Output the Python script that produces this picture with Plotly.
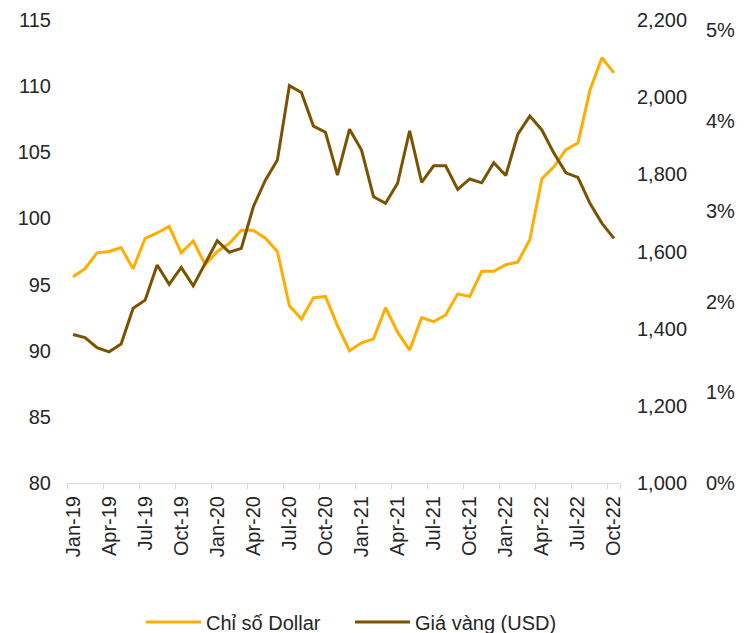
import plotly.graph_objects as go

months = ["Jan-19","Feb-19","Mar-19","Apr-19","May-19","Jun-19","Jul-19","Aug-19","Sep-19","Oct-19","Nov-19","Dec-19",
          "Jan-20","Feb-20","Mar-20","Apr-20","May-20","Jun-20","Jul-20","Aug-20","Sep-20","Oct-20","Nov-20","Dec-20",
          "Jan-21","Feb-21","Mar-21","Apr-21","May-21","Jun-21","Jul-21","Aug-21","Sep-21","Oct-21","Nov-21","Dec-21",
          "Jan-22","Feb-22","Mar-22","Apr-22","May-22","Jun-22","Jul-22","Aug-22","Sep-22","Oct-22"]

dollar_index = [95.6, 96.2, 97.4, 97.5, 97.8, 96.2, 98.5, 98.9, 99.4, 97.4, 98.3, 96.5,
                97.5, 98.1, 99.1, 99.1, 98.5, 97.5, 93.4, 92.4, 94.0, 94.1, 91.9, 90.0,
                90.6, 90.9, 93.25, 91.4, 90.05, 92.5, 92.2, 92.7, 94.3, 94.1, 96.0, 96.0,
                96.5, 96.7, 98.4, 103.0, 103.9, 105.2, 105.7, 109.7, 112.15, 111.0]

gold_usd = [1385, 1377, 1351, 1340, 1360, 1453, 1474, 1565, 1515, 1559, 1511, 1569,
            1628, 1598, 1608, 1716, 1785, 1837, 2030, 2012, 1925, 1909, 1798, 1917,
            1863, 1742, 1725, 1777, 1913, 1779, 1822, 1822, 1761, 1788, 1778, 1830,
            1797, 1904, 1951, 1915, 1855, 1804, 1792, 1725, 1673, 1634]

tick_labels = months[::3]

ORANGE = "#FFAD00"
BROWN = "#7B5300"
FONT = "Liberation Sans, Arial, sans-serif"
FS = 20

fig = go.Figure()
fig.add_trace(go.Scatter(x=months, y=dollar_index, name="Chỉ số Dollar", mode="lines",
                         line=dict(color=ORANGE, width=3), yaxis="y"))
fig.add_trace(go.Scatter(x=months, y=gold_usd, name="Giá vàng (USD)", mode="lines",
                         line=dict(color=BROWN, width=3), yaxis="y2"))
# invisible trace for percent axis
fig.add_trace(go.Scatter(x=[months[0]], y=[0], mode="markers", marker=dict(opacity=0),
                         showlegend=False, hoverinfo="skip", yaxis="y3"))

# page body has an 8px margin -> figure origin sits at (8, 8) in the window
W, H = 737, 625
L, R, T, B = 59, 5, 12, 150
pw = W - L - R
ph = H - T - B
xend = (612 - L) / pw

fig.update_layout(
    width=W, height=H,
    margin=dict(l=L, r=R, t=T, b=B, autoexpand=False),
    paper_bgcolor="white", plot_bgcolor="white",
    font=dict(family=FONT, size=FS, color="#262626"),
    showlegend=True,
    legend=dict(orientation="h", x=(133 - L) / pw, xanchor="left", y=-(614 - 475) / ph,
                yanchor="middle", font=dict(size=FS, color="#262626"), itemwidth=55,
                entrywidth=139, entrywidthmode="pixels", traceorder="normal"),
    xaxis=dict(type="category", domain=[0, xend], range=[-0.5, len(months) - 0.5],
               tickmode="array", tickvals=tick_labels, ticktext=tick_labels,
               tickson="boundaries", ticks="outside", ticklen=5, tickcolor="#D9D9D9",
               tickangle=-90, showline=True, linecolor="#D9D9D9", linewidth=1,
               ticklabelstandoff=4,
               showgrid=False, zeroline=False, tickfont=dict(size=FS), automargin=False),
    yaxis=dict(range=[80, 115], dtick=5, tick0=80, showgrid=False, zeroline=False,
               showline=False, ticks="", ticklabelstandoff=15, tickfont=dict(size=FS),
               automargin=False),
    yaxis2=dict(range=[1000, 2200], dtick=200, tick0=1000, overlaying="y", side="right",
                anchor="x", tickformat=",", showgrid=False, zeroline=False, showline=False,
                ticks="", ticklabelstandoff=16, tickfont=dict(size=FS), automargin=False),
    yaxis3=dict(range=[0, 0.0511], dtick=0.01, tick0=0, overlaying="y", side="right",
                anchor="free", position=(697 - L) / pw, tickformat=".0%", showgrid=False,
                zeroline=False, showline=False, ticks="", tickfont=dict(size=FS),
                automargin=False),
)

fig.write_html("out.html")
